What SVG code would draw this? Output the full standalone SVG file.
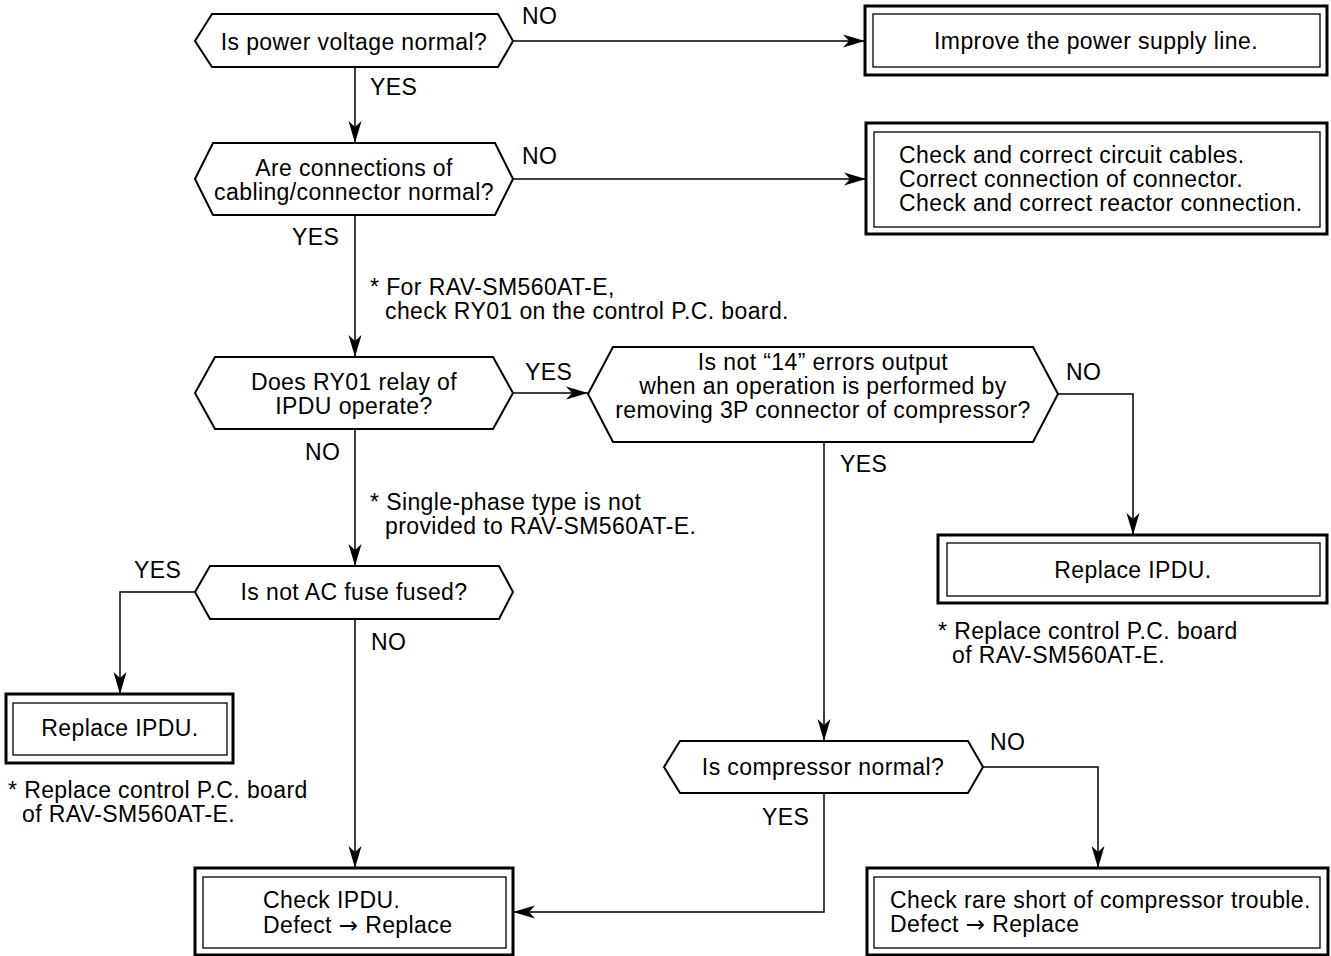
<svg xmlns="http://www.w3.org/2000/svg" width="1331" height="956" viewBox="0 0 1331 956">
<style>
text{font-family:"Liberation Sans",Arial,Helvetica,sans-serif;font-size:23px;letter-spacing:0.4px;fill:#000}
.c{text-anchor:middle}
.arr{font-family:"DejaVu Sans",sans-serif;font-size:23px;font-weight:normal}
.hex{fill:#fff;stroke:#000;stroke-width:2;stroke-linejoin:miter}
.outer{fill:#fff;stroke:#000;stroke-width:3}
.inner{fill:none;stroke:#000;stroke-width:1.3}
.ln{fill:none;stroke:#000;stroke-width:1.5}
</style>
<defs>
<marker id="ah" markerUnits="userSpaceOnUse" markerWidth="22" markerHeight="14" viewBox="0 0 22 14" refX="22" refY="7" orient="auto">
<path d="M0,0.5 L22,7 L0,13.5 L6,7 z" fill="#000"/>
</marker>
</defs>
<rect width="1331" height="956" fill="#fff"/>
<g id="connectors">
<path class="ln" d="M513,41 H865" marker-end="url(#ah)"/>
<path class="ln" d="M355,67 V143" marker-end="url(#ah)"/>
<path class="ln" d="M513,179 H866" marker-end="url(#ah)"/>
<path class="ln" d="M355,215 V357" marker-end="url(#ah)"/>
<path class="ln" d="M513,393 H588" marker-end="url(#ah)"/>
<path class="ln" d="M355,429 V566" marker-end="url(#ah)"/>
<path class="ln" d="M1058,394 H1133 V535" marker-end="url(#ah)"/>
<path class="ln" d="M824,442 V741" marker-end="url(#ah)"/>
<path class="ln" d="M195,592 H120 V694" marker-end="url(#ah)"/>
<path class="ln" d="M355,619 V868" marker-end="url(#ah)"/>
<path class="ln" d="M983,767 H1098 V868" marker-end="url(#ah)"/>
<path class="ln" d="M824,793 V912 H513" marker-end="url(#ah)"/>
</g>
<g id="labels">
<text x="522" y="24">NO</text>
<text x="370" y="95">YES</text>
<text x="522" y="164">NO</text>
<text x="292" y="245">YES</text>
<text x="370" y="295">* For RAV-SM560AT-E,</text>
<text x="385" y="319">check RY01 on the control P.C. board.</text>
<text x="525" y="380">YES</text>
<text x="1066" y="380">NO</text>
<text x="305" y="460">NO</text>
<text x="840" y="472">YES</text>
<text x="370" y="510">* Single-phase type is not</text>
<text x="385" y="534">provided to RAV-SM560AT-E.</text>
<text x="134" y="578">YES</text>
<text x="371" y="650">NO</text>
<text x="990" y="750">NO</text>
<text x="762" y="825">YES</text>
</g>
<g id="q1">
<polygon class="hex" points="195,41 212,14 498,14 513,41 498,67 212,67"/>
<text class="c" x="354" y="50">Is power voltage normal?</text>
</g>
<g id="q2">
<polygon class="hex" points="195,179 213,143 495,143 513,179 495,215 213,215"/>
<text class="c" x="354" y="176">Are connections of</text>
<text class="c" x="354" y="200">cabling/connector normal?</text>
</g>
<g id="q3">
<polygon class="hex" points="195,393 215,357 493,357 513,393 493,429 215,429"/>
<text class="c" x="354" y="390">Does RY01 relay of</text>
<text class="c" x="354" y="414">IPDU operate?</text>
</g>
<g id="q4">
<polygon class="hex" points="588,394 613,347 1033,347 1058,394 1033,442 613,442"/>
<text class="c" x="823" y="370">Is not “14” errors output</text>
<text class="c" x="823" y="394">when an operation is performed by</text>
<text class="c" x="823" y="418">removing 3P connector of compressor?</text>
</g>
<g id="q5">
<polygon class="hex" points="195,592 210,566 499,566 513,592 499,619 210,619"/>
<text class="c" x="354" y="600">Is not AC fuse fused?</text>
</g>
<g id="q6">
<polygon class="hex" points="664,767 680,741 968,741 983,767 968,793 680,793"/>
<text class="c" x="823" y="775">Is compressor normal?</text>
</g>
<g id="b1">
<rect class="outer" x="865" y="6" width="462" height="69"/>
<rect class="inner" x="873" y="14" width="447" height="53"/>
<text class="c" x="1096" y="49">Improve the power supply line.</text>
</g>
<g id="b2">
<rect class="outer" x="866" y="123" width="461" height="111"/>
<rect class="inner" x="874" y="132" width="446" height="95"/>
<text x="899" y="163">Check and correct circuit cables.</text>
<text x="899" y="187">Correct connection of connector.</text>
<text x="899" y="211">Check and correct reactor connection.</text>
</g>
<g id="b3">
<rect class="outer" x="938" y="535" width="389" height="68"/>
<rect class="inner" x="947" y="543" width="373" height="53"/>
<text class="c" x="1133" y="578">Replace IPDU.</text>
<text x="938" y="639">* Replace control P.C. board</text>
<text x="952" y="663">of RAV-SM560AT-E.</text>
</g>
<g id="b4">
<rect class="outer" x="6" y="694" width="227" height="69"/>
<rect class="inner" x="13" y="703" width="214" height="52"/>
<text class="c" x="120" y="736">Replace IPDU.</text>
<text x="8" y="798">* Replace control P.C. board</text>
<text x="22" y="822">of RAV-SM560AT-E.</text>
</g>
<g id="b5">
<rect class="outer" x="195" y="868" width="318" height="87"/>
<rect class="inner" x="203" y="877" width="303" height="71"/>
<text x="263" y="908">Check IPDU.</text>
<text x="263" y="933">Defect <tspan class="arr">→</tspan> Replace</text>
</g>
<g id="b6">
<rect class="outer" x="867" y="868" width="461" height="87"/>
<rect class="inner" x="874" y="877" width="446" height="71"/>
<text x="890" y="908">Check rare short of compressor trouble.</text>
<text x="890" y="932">Defect <tspan class="arr">→</tspan> Replace</text>
</g>
</svg>
